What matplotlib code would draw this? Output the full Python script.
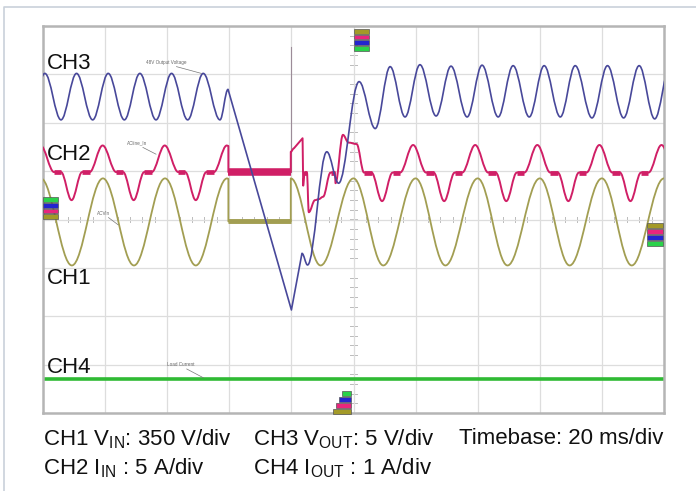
import matplotlib
matplotlib.use('Agg')
import matplotlib.pyplot as plt
from matplotlib.path import Path
from matplotlib.patches import PathPatch, Rectangle
from matplotlib.lines import Line2D
import numpy as np

plt.rcParams['font.family'] = ['Liberation Sans', 'DejaVu Sans']
plt.rcParams['mathtext.default'] = 'regular'

# ---- traces: time in divisions (20 ms/div), level in divisions from centre ----
ch1_t = [-0.035, 0.465, 0.965, 1.465, 1.965, 2.46, 2.965, 2.985, 2.985, 3.99, 3.99,
         4.47, 5.0, 5.48, 6.0, 6.48, 7.0, 7.48, 8.0, 8.48, 9.0, 9.48, 10.0, 10.48]
ch1_v = [0.85, -0.95, 0.85, -0.95, 0.85, -0.95, 0.85, 0.84, -0.04, -0.04, 0.85,
         -0.95, 0.85, -0.95, 0.85, -0.95, 0.85, -0.95, 0.85, -0.95, 0.85, -0.95, 0.85, -0.95]

ch2_t = [-0.04, 0.18, 0.29, 0.46, 0.63, 0.75, 0.96, 1.18, 1.29, 1.46, 1.63, 1.75, 1.96,
         2.18, 2.29, 2.46, 2.63, 2.75, 2.96, 2.985, 2.985, 3.99, 3.99, 4.04, 4.18, 4.19,
         4.21, 4.25, 4.28, 4.38, 4.44, 4.51, 4.63, 4.70, 4.71, 4.83, 4.92, 5.05,
         5.17, 5.29, 5.46, 5.63, 5.75, 5.96, 6.17, 6.29, 6.46, 6.63, 6.75, 6.96,
         7.17, 7.29, 7.46, 7.63, 7.75, 7.96, 8.17, 8.29, 8.46, 8.63, 8.75, 8.96,
         9.17, 9.29, 9.46, 9.63, 9.75, 9.96, 10.17]
ch2_v = [1.53, 0.98, 0.98, 0.40, 0.98, 0.98, 1.53, 0.98, 0.98, 0.40, 0.98, 0.98, 1.53,
         0.98, 0.98, 0.40, 0.98, 0.98, 1.53, 1.52, 0.98, 0.98, 1.40, 1.47, 1.68, 0.70,
         0.97, 0.97, 0.15, 0.40, 0.42, 0.47, 0.97, 0.97, 0.75, 1.75, 1.59, 1.56,
         0.97, 0.97, 0.38, 0.97, 0.97, 1.54, 0.97, 0.97, 0.38, 0.97, 0.97, 1.54,
         0.97, 0.97, 0.38, 0.97, 0.97, 1.54, 0.97, 0.97, 0.38, 0.97, 0.97, 1.54,
         0.97, 0.97, 0.38, 0.97, 0.97, 1.54, 0.97]
ch2_straight = [4.04]
spike_t = [3.99, 3.99]
spike_v = [0.98, 3.56]

ch3_t = [-0.22, 0.03, 0.29, 0.54, 0.80, 1.05, 1.31, 1.56, 1.82, 2.07, 2.33, 2.58, 2.85, 2.98,
         4.0, 4.17, 4.26, 4.57, 4.76, 5.09, 5.35, 5.59, 5.83, 6.07, 6.33, 6.57, 6.83,
         7.07, 7.33, 7.57, 7.83, 8.07, 8.33, 8.57, 8.84, 9.09, 9.35, 9.6, 9.85, 10.1]
ch3_v = [2.06, 3.02, 2.06, 3.02, 2.06, 3.02, 2.06, 3.02, 2.06, 3.02, 2.06, 3.02, 2.06, 2.69,
         -1.87, -0.70, -0.94, 1.40, 0.75, 2.85, 1.88, 3.16, 2.12, 3.20, 2.14, 3.17, 2.12,
         3.19, 2.12, 3.18, 2.12, 3.18, 2.12, 3.18, 2.10, 3.18, 2.10, 3.18, 2.08, 3.18]
ch3_straight = [2.98, 4.0]

ch4_t = [0.0, 10.0]
ch4_v = [-3.30, -3.30]

ch_labels = ['CH3', 'CH2', 'CH1', 'CH4']
ch_label_v = [3.23, 1.35, -1.21, -3.05]

probe_names = ['48V Output Voltage', 'ACline_In', 'ACVin', 'Load Current']
probe_text = [(1.66, 3.25), (1.35, 1.58), (0.865, 0.13), (1.99, -3.0)]
probe_tip = [(2.55, 3.02), (1.82, 1.35), (1.21, -0.11), (2.58, -3.27)]

scale_rows = [[r'CH1 V$_{IN}$: 350 V/div', r'CH3 V$_{OUT}$: 5 V/div', 'Timebase: 20 ms/div'],
              [r'CH2 I$_{IN}$ : 5 A/div', r'CH4 I$_{OUT}$ : 1 A/div']]

tag_colors = ['#a39a28', '#e8257d', '#2424d0', '#2ad24a']

C1, C2, C3, C4 = '#a29e52', '#d01f66', '#48489a', '#2fba34'
K = 0.3634


def trace_path(ts, vs, straight=()):
    verts = [(ts[0], vs[0])]
    codes = [Path.MOVETO]
    for i in range(len(ts) - 1):
        t0, v0, t1, v1 = ts[i], vs[i], ts[i + 1], vs[i + 1]
        dt = t1 - t0
        if dt < 0.025 or v0 == v1 or t0 in straight:
            verts.append((t1, v1))
            codes.append(Path.LINETO)
        else:
            verts += [(t0 + K * dt, v0), (t1 - K * dt, v1), (t1, v1)]
            codes += [Path.CURVE4] * 3
    return Path(verts, codes)


def draw_trace(ax, ts, vs, color, lw, flat_lw=None, straight=(), z=3):
    ax.add_patch(PathPatch(trace_path(ts, vs, straight), fill=False, edgecolor=color,
                           lw=lw, joinstyle='round', capstyle='round', zorder=z))
    if flat_lw:
        for i in range(len(ts) - 1):
            if vs[i] == vs[i + 1]:
                w = flat_lw * 1.6 if ts[i + 1] - ts[i] > 0.5 else flat_lw
                ax.plot([ts[i], ts[i + 1]], [vs[i], vs[i + 1]], color=color, lw=w,
                        solid_capstyle='butt', zorder=z)


def draw_tag(ax, t_right, v_top, widths, colors, step, h):
    for j, (w, c) in enumerate(zip(widths, colors)):
        ax.add_patch(Rectangle((t_right - w, v_top - j * step - h), w, h, facecolor=c,
                               edgecolor='#555555', lw=0.5, clip_on=False, zorder=6))


fig = plt.figure(figsize=(6.96, 4.91), dpi=100)
fig.add_artist(Line2D([4 / 696, 4 / 696, 1], [0, 1 - 7 / 491, 1 - 7 / 491],
                      transform=fig.transFigure, color='#c9d1da', lw=1.2))

ax = fig.add_axes([43 / 696, 1 - 413 / 491, 621 / 696, 387 / 491])
ax.set_xlim(0, 10)
ax.set_ylim(-4, 4)
ax.set_xticks(range(11))
ax.set_yticks(range(-4, 5))
ax.tick_params(length=0, labelbottom=False, labelleft=False)
ax.grid(True, color='#dddddd', lw=0.9)
for s in ax.spines.values():
    s.set_color('#b5b5b5')
    s.set_linewidth(1.8)

# minor ticks along the centre cross
for x in np.arange(0, 10.01, 0.2):
    ax.plot([x, x], [-0.06, 0.06], color='#bbbbbb', lw=0.7, zorder=1)
for y in np.arange(-4, 4.01, 0.2):
    ax.plot([4.95, 5.05], [y, y], color='#bbbbbb', lw=0.7, zorder=1)

draw_trace(ax, ch4_t, ch4_v, C4, 2.6, z=2)
draw_trace(ax, ch1_t, ch1_v, C1, 1.3, flat_lw=2.2, z=3)
ax.plot(spike_t, spike_v, color='#9c8c98', lw=0.8, zorder=3)
draw_trace(ax, ch2_t, ch2_v, C2, 1.4, flat_lw=3.4, straight=ch2_straight, z=4)
draw_trace(ax, ch3_t, ch3_v, C3, 1.2, straight=ch3_straight, z=5)

for name, v in zip(ch_labels, ch_label_v):
    ax.text(0.07, v, name, fontsize=16, va='center', ha='left', color='#111111', zorder=7)

for name, (tx, ty), (px, py) in zip(probe_names, probe_text, probe_tip):
    t = ax.text(tx, ty, name, fontsize=3.3, color='#666666', va='center', zorder=7)
    ax.plot([px - (px - tx) * 0.45, px], [ty - 0.09, py], color='#777777', lw=0.5, zorder=7)

draw_tag(ax, 5.25, 3.94, [0.24] * 4, tag_colors, 0.119, 0.10)
draw_tag(ax, 0.236, 0.465, [0.236] * 4, tag_colors[::-1], 0.119, 0.10)
draw_tag(ax, 9.98, -0.07, [0.25] * 4, tag_colors, 0.124, 0.10)
draw_tag(ax, 4.96, -3.537, [0.145, 0.193, 0.242, 0.29], tag_colors[::-1], 0.126, 0.105)

row_y = [439, 468]
col_x = [43, 253, 459]
for row, y in zip(scale_rows, row_y):
    for txt, x in zip(row, col_x):
        fig.text(x / 696, 1 - y / 491, txt, fontsize=16, va='center', ha='left', color='#111111')

fig.savefig('out.png', dpi=100)
